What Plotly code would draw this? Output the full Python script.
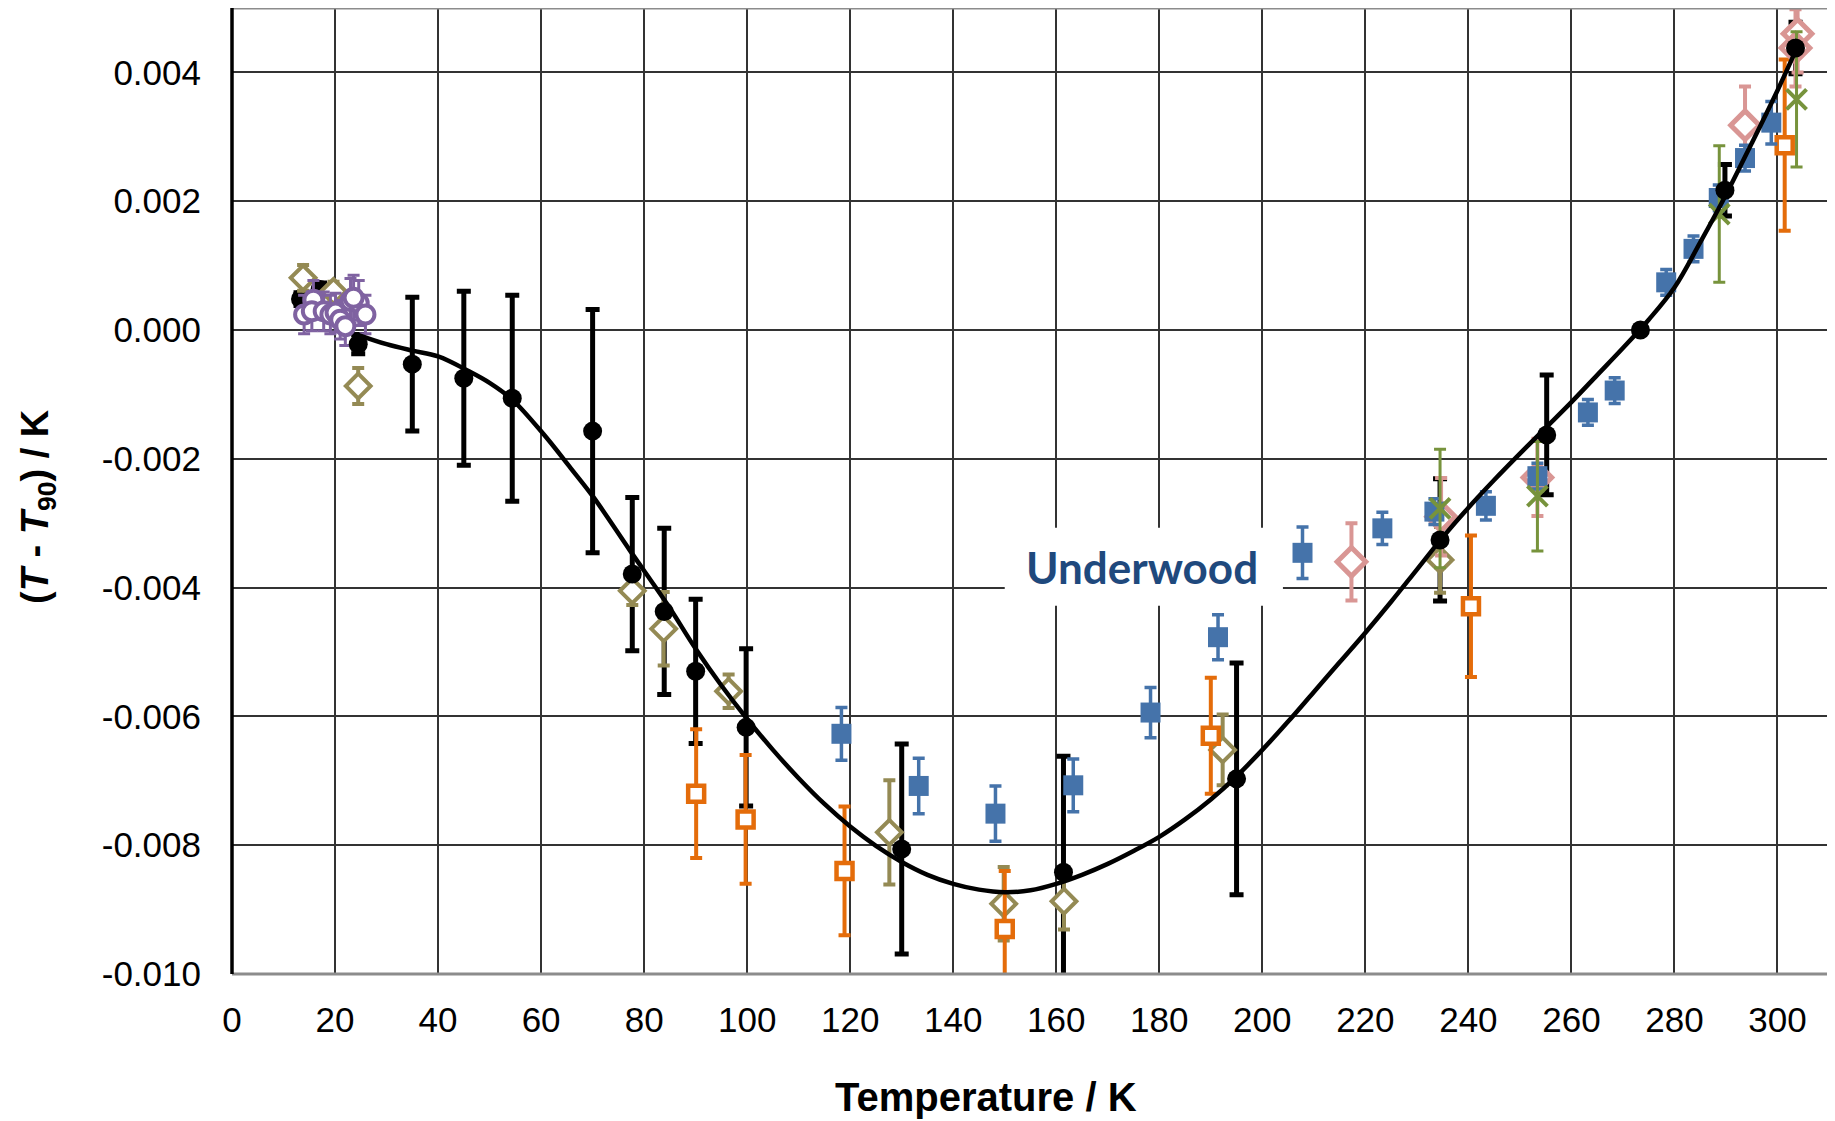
import plotly.graph_objects as go

# ---------------- data (values in mK, converted to K below) ----------------
# black reference points
blk_T   = [13.3, 17.1, 24.5, 35.0, 45.0, 54.4, 70.0, 77.7, 83.9, 90.0, 99.8, 130.0, 161.4, 195.0, 234.5, 255.2, 273.4, 289.8, 303.5]
blk_v   = [0.48, 0.63, -0.22, -0.53, -0.75, -1.06, -1.57, -3.79, -4.37, -5.30, -6.17, -8.06, -8.42, -6.97, -3.26, -1.63, 0.0, 2.17, 4.38]
blk_e   = [0.10, 0.10, 0.15, 1.04, 1.35, 1.60, 1.89, 1.19, 1.29, 1.12, 1.22, 1.63, 1.80, 1.80, 0.95, 0.93, 0.0, 0.40, 0.40]

# fitted curve
fit_T = [24.3, 30, 35, 40, 46, 50, 54.4, 60.5, 65.7, 70.2, 77.3, 84.5, 90, 95, 100, 105, 110, 115, 120, 125,
         130, 135, 140, 145, 150, 155, 160, 165, 170, 175, 180, 185, 190, 195, 200, 205, 210, 215, 220,
         225, 230, 235, 240, 245, 250, 255, 260, 265, 270, 275, 280, 285, 290, 295, 300, 303.5]
fit_v = [-0.07, -0.22, -0.32, -0.41, -0.64, -0.82, -1.08, -1.62, -2.14, -2.60, -3.43, -4.26, -4.95, -5.52, -6.04,
         -6.52, -6.96, -7.36, -7.71, -8.01, -8.26, -8.46, -8.60, -8.69, -8.73, -8.70, -8.60, -8.46, -8.29, -8.09,
         -7.87, -7.60, -7.29, -6.93, -6.52, -6.08, -5.62, -5.16, -4.70, -4.22, -3.72, -3.22, -2.76, -2.33, -1.92,
         -1.52, -1.12, -0.70, -0.28, 0.16, 0.66, 1.36, 2.10, 2.90, 3.72, 4.33]

# purple open circles
pur_T = [14.0, 15.8, 15.5, 17.8, 19.1, 20.1, 21.0, 22.0, 23.0, 24.6, 25.9, 23.6]
pur_v = [0.24, 0.47, 0.29, 0.29, 0.24, 0.27, 0.16, 0.06, 0.45, 0.42, 0.24, 0.50]
pur_e = [0.30, 0.30, 0.30, 0.30, 0.30, 0.30, 0.30, 0.30, 0.35, 0.35, 0.30, 0.35]

# olive open diamonds
olv_T = [13.8, 19.7, 24.5, 77.7, 83.8, 96.4, 127.6, 149.8, 161.5, 192.3, 234.5]
olv_v = [0.81, 0.60, -0.87, -4.05, -4.64, -5.61, -7.80, -8.91, -8.87, -6.52, -3.57]
olv_e = [0.20, 0.15, 0.28, 0.22, 0.57, 0.26, 0.81, 0.57, 0.44, 0.55, 0.51]

# orange open squares
org_T = [90.1, 99.7, 118.9, 150.0, 190.0, 240.5, 301.4]
org_v = [-7.20, -7.60, -8.40, -9.30, -6.30, -4.29, 2.87]
org_e = [1.00, 1.00, 1.00, 0.90, 0.90, 1.10, 1.33]

# blue filled squares
blu_T = [118.3, 133.3, 148.2, 163.3, 178.3, 191.4, 207.8, 223.3, 233.4, 243.4, 253.4, 263.2, 268.4, 278.4, 283.7, 288.6, 293.7, 298.8]
blu_v = [-6.27, -7.08, -7.51, -7.07, -5.94, -4.77, -3.46, -3.08, -2.82, -2.73, -2.27, -1.28, -0.94, 0.74, 1.26, 2.05, 2.67, 3.22]
blu_e = [0.41, 0.43, 0.43, 0.41, 0.39, 0.35, 0.40, 0.25, 0.20, 0.22, 0.20, 0.20, 0.20, 0.20, 0.20, 0.20, 0.20, 0.33]

# pink open diamonds
pnk_T = [217.3, 234.7, 253.4, 293.7, 303.9, 303.5]
pnk_v = [-3.60, -2.90, -2.29, 3.18, 4.60, 4.38]
pnk_e = [0.60, 0.60, 0.60, 0.60, 0.60, 0.60]

# green crosses
grn_T = [234.5, 253.4, 288.7, 303.7]
grn_v = [-2.77, -2.58, 1.80, 3.58]
grn_e = [0.92, 0.85, 1.06, 1.05]

x_ticks = [0, 20, 40, 60, 80, 100, 120, 140, 160, 180, 200, 220, 240, 260, 280, 300]
y_ticks = [-0.010, -0.008, -0.006, -0.004, -0.002, 0.000, 0.002, 0.004]
y_tick_text = ["-0.010", "-0.008", "-0.006", "-0.004", "-0.002", "0.000", "0.002", "0.004"]

label_text = "Underwood"
label_T, label_v = 176.7, -3.68
label_box_T = [150.0, 204.0]
label_box_v = [-4.28, -3.07]

K = lambda a: [v / 1000.0 for v in a]

FONT = "Liberation Sans, Arial, sans-serif"

fig = go.Figure()

def add(T, v, e, symbol, size, fill, lcol, lw, ecol, eth, ew):
    fig.add_trace(go.Scatter(
        x=T, y=K(v), mode="markers",
        marker=dict(symbol=symbol, size=size, color=fill, line=dict(color=lcol, width=lw)),
        error_y=dict(type="data", array=K(e), visible=True, color=ecol, thickness=eth, width=ew),
        showlegend=False, hoverinfo="x+y"))

# black error bars (behind everything)
fig.add_trace(go.Scatter(x=blk_T, y=K(blk_v), mode="markers",
                         marker=dict(size=1, color="rgba(0,0,0,0)"),
                         error_y=dict(type="data", array=K(blk_e), visible=True, color="#000000", thickness=5, width=7),
                         showlegend=False, hoverinfo="skip"))

# the two lowest-temperature black points sit behind the purple cluster
fig.add_trace(go.Scatter(x=blk_T[:2], y=K(blk_v[:2]), mode="markers",
                         marker=dict(symbol="circle", size=19, color="#000000"), showlegend=False))

add(olv_T, olv_v, olv_e, "diamond", 19, "white", "#948A54", 4, "#948A54", 4, 6)
add(org_T, org_v, org_e, "square", 16, "white", "#E46C0A", 4.5, "#E46C0A", 4, 6)
add(pnk_T, pnk_v, pnk_e, "diamond", 22, "white", "#D99694", 5, "#D99694", 4, 6)
add(blu_T, blu_v, blu_e, "square", 20, "#4573AA", "#4573AA", 0, "#4573AA", 3.5, 6)
add(grn_T, grn_v, grn_e, "x-thin", 20, "#77933C", "#77933C", 4, "#77933C", 3, 6)
add(pur_T, pur_v, pur_e, "circle", 18, "white", "#7F62A1", 4, "#7F62A1", 3, 6)

# fitted curve
fig.add_trace(go.Scatter(x=fit_T, y=K(fit_v), mode="lines",
                         line=dict(color="#000000", width=4.5, shape="spline", smoothing=1.0),
                         showlegend=False, hoverinfo="skip"))

# remaining black markers on top
fig.add_trace(go.Scatter(x=blk_T[2:], y=K(blk_v[2:]), mode="markers",
                         marker=dict(symbol="circle", size=19, color="#000000"),
                         showlegend=False))

fig.update_layout(
    width=1827, height=1113, autosize=False,
    margin=dict(l=224, r=6, t=0, b=147),
    paper_bgcolor="white", plot_bgcolor="white",
    font=dict(family=FONT, size=35, color="#000000"),
    xaxis=dict(range=[0, 310], tickvals=x_ticks, ticktext=[str(t) for t in x_ticks],
               showgrid=True, gridcolor="#333333", gridwidth=1.5, zeroline=False,
               showline=False, ticks="", ticklabelstandoff=22,
               tickfont=dict(family=FONT, size=35)),
    yaxis=dict(range=[-0.010, 0.005], tickvals=y_ticks, ticktext=y_tick_text,
               showgrid=True, gridcolor="#333333", gridwidth=1.5, zeroline=False,
               showline=False, ticks="", ticklabelstandoff=30,
               tickfont=dict(family=FONT, size=35)),
    shapes=[
        dict(type="rect", xref="x", yref="y", x0=label_box_T[0], x1=label_box_T[1],
             y0=label_box_v[0] / 1000, y1=label_box_v[1] / 1000, fillcolor="white",
             line=dict(width=0), layer="between"),
        dict(type="line", xref="paper", yref="paper", x0=0, x1=1, y0=1, y1=1, line=dict(color="#8c8c8c", width=3), layer="above"),
        dict(type="line", xref="paper", yref="paper", x0=1, x1=1, y0=0, y1=1, line=dict(color="#8c8c8c", width=3), layer="above"),
        dict(type="line", xref="paper", yref="paper", x0=0, x1=1, y0=0, y1=0, line=dict(color="#8c8c8c", width=3), layer="above"),
        dict(type="line", xref="paper", yref="paper", x0=0, x1=0, y0=0, y1=1, line=dict(color="#000000", width=3.5), layer="above"),
    ],
    annotations=[
        dict(text=label_text, x=label_T, y=label_v / 1000, xref="x", yref="y", showarrow=False,
             font=dict(family="Lato, Carlito, Calibri, sans-serif", size=44, color="#1F497D", weight="bold")),
        dict(text="<b>Temperature / K</b>", x=0.472, y=-0.127, xref="paper", yref="paper",
             showarrow=False, xanchor="center", yanchor="middle", font=dict(family=FONT, size=40)),
        dict(text="<b>(<i>T</i> - <i>T</i><sub>90</sub>) / K</b>", x=-0.1215, y=0.4845, xref="paper", yref="paper",
             showarrow=False, textangle=-90, xanchor="center", yanchor="middle", font=dict(family=FONT, size=38)),
    ],
)

fig.write_html("out.html")
